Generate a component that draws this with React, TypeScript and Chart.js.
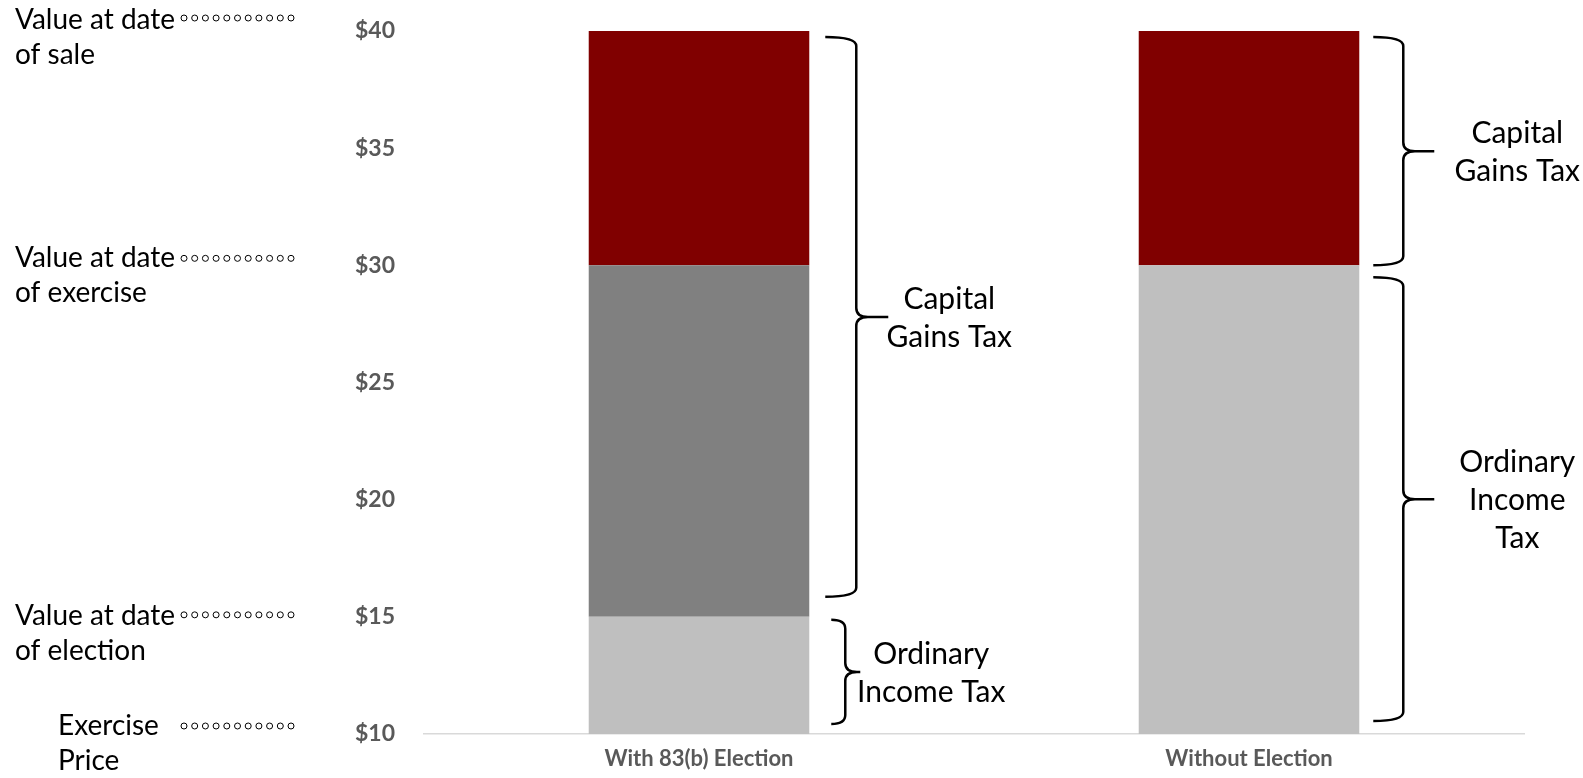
import React, { useEffect, useRef } from "react";
import { Chart, registerables } from "chart.js";

Chart.register(...registerables);

// ---- data ----
const categories = ["With 83(b) Election", "Without Election"];
const ordinaryIncomeRange: ([number, number] | null)[] = [[10, 15], [10, 30]];
const preExerciseGainRange: ([number, number] | null)[] = [[15, 30], null];
const postExerciseGainRange: ([number, number] | null)[] = [[30, 40], [30, 40]];
const yMin = 10;
const yMax = 40;
const yStep = 5;

const markerValues = [40, 30, 15, 10];
const markerLabels = [
  ["Value at date", "of sale"],
  ["Value at date", "of exercise"],
  ["Value at date", "of election"],
  ["Exercise", "Price"],
];

const braceBars = [0, 0, 1, 1];
const braceFrom = [40, 15, 40, 30];
const braceTo = [15, 10, 30, 10];
const braceLabels = [
  ["Capital", "Gains Tax"],
  ["Ordinary", "Income Tax"],
  ["Capital", "Gains Tax"],
  ["Ordinary", "Income", "Tax"],
];

// ---- styling / layout of annotations ----
const markerLayout = [
  { x: 15, base: -2, dots: -13 },
  { x: 15, base: 2, dots: -7 },
  { x: 15, base: 8, dots: -2 },
  { x: 58, base: 1, dots: -8 },
];
const braceLayout = [
  { insetTop: 6, insetBottom: 20, xs: [16, 47, 79], textDx: 140 },
  { insetTop: 3, insetBottom: 10, xs: [22, 36, 51], textDx: 122 },
  { insetTop: 6, insetBottom: 0, xs: [14, 44, 75], textDx: 158 },
  { insetTop: 12, insetBottom: 13, xs: [14, 44, 75], textDx: 158 },
];

const FONT = "Lato, 'Open Sans', sans-serif";

function drawBrace(ctx: CanvasRenderingContext2D, x0: number, xv: number, xt: number, y0: number, y1: number) {
  const ym = (y0 + y1) / 2;
  const r = Math.min(9, (y1 - y0) / 6);
  ctx.beginPath();
  ctx.moveTo(x0, y0);
  ctx.quadraticCurveTo(xv, y0, xv, y0 + r);
  ctx.lineTo(xv, ym - r);
  ctx.quadraticCurveTo(xv, ym, xv + r * 1.3, ym);
  ctx.lineTo(xt, ym);
  ctx.moveTo(xt, ym);
  ctx.lineTo(xv + r * 1.3, ym);
  ctx.quadraticCurveTo(xv, ym, xv, ym + r);
  ctx.lineTo(xv, y1 - r);
  ctx.quadraticCurveTo(xv, y1, x0, y1);
  ctx.stroke();
}

const annotationPlugin = {
  id: "annotations",
  afterDraw(chart: any) {
    const ctx: CanvasRenderingContext2D = chart.ctx;
    const y = chart.scales.y;
    const meta = chart.getDatasetMeta(0);
    ctx.save();
    // left value markers
    ctx.fillStyle = "#000";
    ctx.strokeStyle = "#000";
    ctx.font = `28px ${FONT}`;
    ctx.textAlign = "left";
    ctx.textBaseline = "alphabetic";
    markerValues.forEach((v, i) => {
      const py = y.getPixelForValue(v);
      const L = markerLayout[i];
      markerLabels[i].forEach((t, j) => {
        ctx.fillText(t, L.x, py + L.base + j * 35);
      });
      ctx.lineWidth = 1;
      for (let k = 0; k < 11; k++) {
        ctx.beginPath();
        ctx.arc(184 + k * 10.7, py + L.dots, 3, 0, Math.PI * 2);
        ctx.stroke();
      }
    });
    // braces
    ctx.lineWidth = 2.5;
    ctx.lineJoin = "round";
    braceBars.forEach((b, i) => {
      const el = meta.data[b];
      const right = el.x + el.width / 2;
      const L = braceLayout[i];
      const y0 = y.getPixelForValue(braceFrom[i]) + L.insetTop;
      const y1 = y.getPixelForValue(braceTo[i]) - L.insetBottom;
      drawBrace(ctx, right + L.xs[0], right + L.xs[1], right + L.xs[2], y0, y1);
      const ym = (y0 + y1) / 2;
      ctx.font = `30px ${FONT}`;
      ctx.textAlign = "center";
      const lines = braceLabels[i];
      const gap = 38;
      lines.forEach((t, j) => {
        ctx.fillText(t, right + L.textDx, ym - ((lines.length - 1) * gap) / 2 + 11 + j * gap);
      });
    });
    ctx.restore();
  },
};

export default function App() {
  const ref = useRef<HTMLCanvasElement>(null);
  useEffect(() => {
    if (!ref.current) return;
    const chart = new Chart(ref.current, {
      type: "bar",
      data: {
        labels: categories,
        datasets: [
          { label: "Ordinary income", data: ordinaryIncomeRange as any, backgroundColor: "#BFBFBF" },
          { label: "Gain before exercise", data: preExerciseGainRange as any, backgroundColor: "#808080" },
          { label: "Gain after exercise", data: postExerciseGainRange as any, backgroundColor: "#800000" },
        ],
      },
      options: {
        responsive: false,
        animation: false,
        layout: { padding: { top: 31, right: 59, left: 0, bottom: 0 } },
        plugins: { legend: { display: false }, tooltip: { enabled: false } },
        datasets: {
          bar: { grouped: false, categoryPercentage: 1, barPercentage: 0.401, borderWidth: 0 } as any,
        },
        scales: {
          x: {
            grid: { display: false, drawTicks: false },
            border: { display: true, color: "#D9D9D9", width: 1.5 },
            ticks: { font: { family: FONT, weight: "bold", size: 22 }, color: "#595959", padding: 12 },
            afterFit: (s: any) => { s.height = 44; },
          },
          y: {
            min: yMin,
            max: yMax,
            ticks: {
              stepSize: yStep,
              callback: (v: any) => "$" + v,
              font: { family: FONT, weight: "bold", size: 23 },
              color: "#595959",
              padding: 29,
            },
            grid: { display: false, drawTicks: false },
            border: { display: false },
            afterFit: (s: any) => {
              s.width = 424;
              s.paddingTop = 0;
              s.paddingBottom = 0;
            },
          },
        },
      },
      plugins: [annotationPlugin],
    });
    return () => chart.destroy();
  }, []);
  return (
    <div style={{ position: "absolute", left: 0, top: 0, width: 1583, height: 778, background: "#fff" }}>
      <canvas ref={ref} width={1583} height={778} style={{ width: 1583, height: 778 }} />
    </div>
  );
}
